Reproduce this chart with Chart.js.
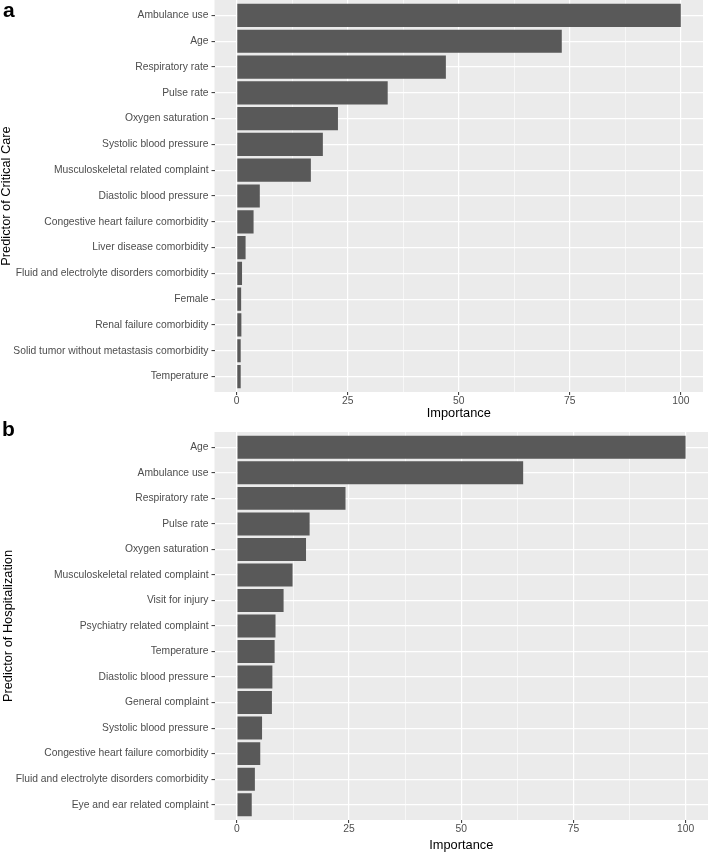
<!DOCTYPE html>
<html>
<head>
<meta charset="utf-8">
<script src="https://cdn.jsdelivr.net/npm/chart.js@4"></script>
<style>
  html, body { margin: 0; padding: 0; background: #fff; }
  body { width: 709px; height: 852px; position: relative; overflow: hidden; }
  canvas { position: absolute; left: 0; }
  #chartA { top: 0; }
  #chartB { top: 420px; }
</style>
</head>
<body>
<canvas id="chartA" width="709" height="420"></canvas>
<canvas id="chartB" width="709" height="432"></canvas>
<script>
const labelsA = [
  "Ambulance use", "Age", "Respiratory rate", "Pulse rate", "Oxygen saturation",
  "Systolic blood pressure", "Musculoskeletal related complaint", "Diastolic blood pressure",
  "Congestive heart failure comorbidity", "Liver disease comorbidity",
  "Fluid and electrolyte disorders comorbidity", "Female", "Renal failure comorbidity",
  "Solid tumor without metastasis comorbidity", "Temperature"
];
const valuesA = [100, 73.2, 47.1, 34.0, 22.8, 19.4, 16.7, 5.2, 3.8, 2.0, 1.2, 1.0, 1.05, 0.9, 0.9];

const labelsB = [
  "Age", "Ambulance use", "Respiratory rate", "Pulse rate", "Oxygen saturation",
  "Musculoskeletal related complaint", "Visit for injury", "Psychiatry related complaint",
  "Temperature", "Diastolic blood pressure", "General complaint", "Systolic blood pressure",
  "Congestive heart failure comorbidity", "Fluid and electrolyte disorders comorbidity",
  "Eye and ear related complaint"
];
const valuesB = [100, 63.8, 24.2, 16.2, 15.4, 12.4, 10.4, 8.6, 8.4, 7.9, 7.8, 5.6, 5.2, 4.0, 3.3];

const xTicks = [0, 12.5, 25, 37.5, 50, 62.5, 75, 87.5, 100];

const FONT = "'Liberation Sans', Arial, Helvetica, sans-serif";

// grey panel behind the grid + the bold panel letter
const panelBg = {
  id: "panelBg",
  beforeDraw(chart, args, opts) {
    const { ctx, chartArea: a } = chart;
    ctx.save();
    ctx.fillStyle = "#ebebeb";
    ctx.fillRect(a.left, a.top, a.right - a.left, a.bottom - a.top);
    ctx.restore();
  },
  afterDraw(chart, args, opts) {
    const ctx = chart.ctx;
    ctx.save();
    ctx.fillStyle = "#000";
    ctx.font = "bold 21px " + FONT;
    ctx.textBaseline = "alphabetic";
    ctx.fillText(opts.tag, opts.tagX, opts.tagY);
    ctx.restore();
  }
};

function makePanel(id, labels, values, yTitle, cfg) {
  return new Chart(document.getElementById(id), {
    type: "bar",
    data: {
      datasets: [{
        data: values.map((v, i) => ({ x: v, y: i })),
        backgroundColor: "#595959",
        borderWidth: 0,
        categoryPercentage: 1,
        barPercentage: 0.9
      }]
    },
    plugins: [panelBg],
    options: {
      indexAxis: "y",
      responsive: false,
      animation: false,
      layout: { padding: { left: 0, right: cfg.padRight, top: cfg.padTop, bottom: 0 } },
      plugins: {
        legend: { display: false },
        tooltip: { enabled: false },
        panelBg: { tag: cfg.tag, tagX: cfg.tagX, tagY: cfg.tagY }
      },
      scales: {
        x: {
          type: "linear",
          min: -5,
          max: 105,
          afterBuildTicks: s => { s.ticks = xTicks.map(v => ({ value: v })); },
          afterFit: s => { s.height = cfg.xHeight; },
          border: { display: false },
          grid: {
            color: "#ffffff",
            lineWidth: c => (c.tick && c.tick.value % 25 === 0 ? 1.2 : 0.6),
            tickLength: 3,
            tickWidth: 1,
            tickColor: c => (c.tick && c.tick.value % 25 === 0 ? "#333333" : "rgba(0,0,0,0)")
          },
          ticks: {
            autoSkip: false,
            maxRotation: 0,
            padding: 0,
            color: "#4d4d4d",
            font: { family: FONT, size: 10.3 },
            callback: v => (v % 25 === 0 ? String(v) : "")
          },
          title: {
            display: true,
            text: "Importance",
            color: "#000",
            font: { family: FONT, size: 12.8, lineHeight: 1 },
            padding: { top: 0, bottom: 0.6 }
          }
        },
        y: {
          type: "linear",
          offset: false,
          min: -0.6,
          max: labels.length - 0.4,
          reverse: true,
          afterBuildTicks: s => { s.ticks = labels.map((_, i) => ({ value: i })); },
          afterFit: s => { s.width = 214.5; s.paddingTop = 0; s.paddingBottom = 0; },
          border: { display: false },
          grid: {
            offset: false,
            color: "#ffffff",
            lineWidth: 1.2,
            tickLength: 3,
            tickWidth: 1,
            tickColor: "#333333"
          },
          ticks: {
            autoSkip: false,
            padding: 3,
            color: "#4d4d4d",
            font: { family: FONT, size: 10.3 },
            callback: v => labels[v]
          },
          title: {
            display: true,
            text: yTitle,
            color: "#000",
            font: { family: FONT, size: 12.8, lineHeight: 1 },
            padding: { top: cfg.yTitlePad, bottom: 0 }
          }
        }
      }
    }
  });
}

makePanel("chartA", labelsA, valuesA, "Predictor of Critical Care", {
  tag: "a", tagX: 3, tagY: 17, padRight: 6, padTop: 0, xHeight: 28, yTitlePad: 0.5
});

makePanel("chartB", labelsB, valuesB, "Predictor of Hospitalization", {
  tag: "b", tagX: 2, tagY: 16, padRight: 1, padTop: 12, xHeight: 32, yTitlePad: 2.5
});
</script>
</body>
</html>
